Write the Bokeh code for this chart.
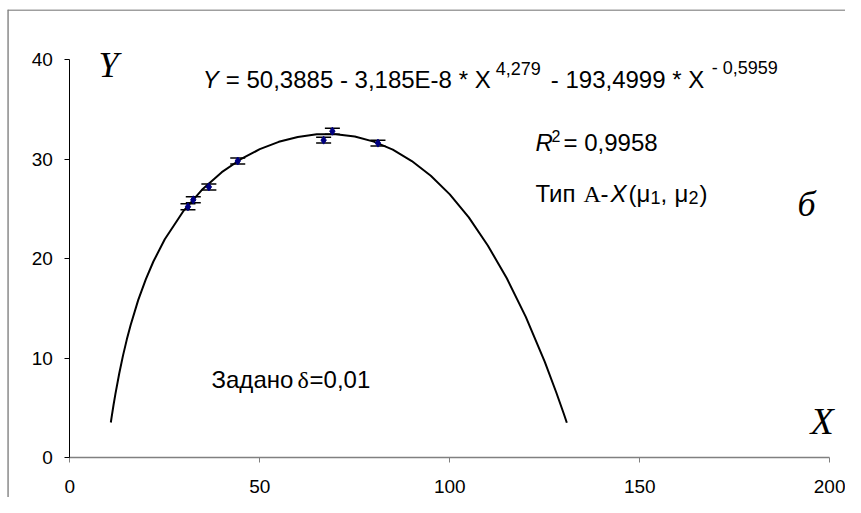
from bokeh.plotting import figure
from bokeh.models import Range1d, Label, Whisker, ColumnDataSource, TeeHead, FixedTicker, Span
from bokeh.embed import file_html
from bokeh.resources import INLINE

# fitted curve
curve_x = [10.8, 11, 11.5, 12, 13, 14, 15, 16, 18, 20, 22, 25, 30, 35, 40, 45, 50, 55, 60, 65,
           70, 75, 80, 85, 90, 95, 100, 105, 110, 115, 120, 125, 128, 130, 130.8]
curve_y = [3.52, 4.03, 5.25, 6.37, 8.42, 10.24, 11.85, 13.30, 15.82, 17.91, 19.70, 21.93, 24.82,
           27.00, 28.68, 29.98, 30.99, 31.73, 32.22, 32.48, 32.50, 32.26, 31.75, 30.94, 29.80,
           28.32, 26.45, 24.13, 21.31, 18.02, 14.13, 9.62, 6.56, 4.40, 3.49]

# measured points with error bars
pts_x = [31.1, 32.5, 36.6, 44.2, 66.8, 69.1, 81.1]
pts_y = [25.2, 25.9, 27.2, 29.8, 31.9, 32.8, 31.6]
pts_err = [0.3, 0.3, 0.3, 0.3, 0.3, 0.3, 0.3]

x_ticks = [0, 50, 100, 150, 200]
y_ticks = [0, 10, 20, 30, 40]

SANS = "Liberation Sans"
SERIF = "Liberation Serif"

# frame covers the whole chart area; axes are pinned at 0
XL, XR = -16.39, 204.13
YB, YT = -4.02, 45.03

p = figure(width=845, height=497, output_backend="svg", toolbar_location=None,
           x_range=Range1d(XL, XR), y_range=Range1d(YB, YT),
           min_border_left=7, min_border_right=0, min_border_top=9, min_border_bottom=0)
p.background_fill_color = "white"
p.border_fill_color = "white"
p.outline_line_color = None
p.xgrid.visible = False
p.ygrid.visible = False

p.xaxis.ticker = FixedTicker(ticks=x_ticks)
p.yaxis.ticker = FixedTicker(ticks=y_ticks)
p.xaxis.fixed_location = 0
p.yaxis.fixed_location = 0
p.xaxis.bounds = (0, 200)
p.yaxis.bounds = (0, 40)
for ax in (p.xaxis[0], p.yaxis[0]):
    ax.major_tick_in = 0
    ax.major_tick_out = 5
    ax.minor_tick_line_color = None
    ax.major_label_text_font = SANS
    ax.major_label_text_font_size = "19px"
    ax.major_label_text_color = "black"
p.xaxis.major_label_standoff = 17
p.yaxis.major_label_standoff = 12
p.xaxis.axis_line_color = "#808080"
p.xaxis.axis_line_width = 1.5
p.xaxis.major_tick_line_color = "#808080"
p.yaxis.axis_line_color = "black"
p.yaxis.major_tick_line_color = "black"

# chart-area border (left and top edges)
p.add_layout(Span(location=XL + 0.1, dimension="height", line_color="black", line_width=1))
p.add_layout(Span(location=YT - 0.05, dimension="width", line_color="#7f7f7f", line_width=1.5))

p.line(curve_x, curve_y, line_color="black", line_width=2)

src = ColumnDataSource(dict(x=pts_x, y=pts_y,
                            upper=[a + b for a, b in zip(pts_y, pts_err)],
                            lower=[a - b for a, b in zip(pts_y, pts_err)]))
w = Whisker(source=src, base="x", upper="upper", lower="lower", dimension="height",
            line_color="black", line_width=1.2,
            upper_head=TeeHead(size=15, line_color="black", line_width=1.5),
            lower_head=TeeHead(size=15, line_color="black", line_width=1.5))
p.add_layout(w)
p.scatter("x", "y", source=src, marker="diamond", size=8,
          fill_color="#000080", line_color="#000080")


def put(x, y, off, txt, size, style="normal", font=SANS, dy=0):
    p.add_layout(Label(x=x, y=y, x_offset=off, y_offset=dy, text=txt,
                       text_font=font, text_font_size=f"{size}px",
                       text_font_style=style, text_color="black",
                       text_baseline="alphabetic", text_align="left"))


F = 24
S = 18
# equation (pieces placed at measured pixel offsets from its left end)
ex, ey = 35.0, 38.0
put(ex, ey, 0, "Y", F, "italic")
put(ex, ey, 23, "= 50,3885 - 3,185E-8 * X", F)
put(ex, ey, 293, "4,279", S, dy=11)
put(ex, ey, 348, "- 193,4999 * X", F)
put(ex, ey, 509, "- 0,5959", S, dy=11)

# R^2
rx, ry = 122.55, 31.65
put(rx, ry, 0, "R", F, "italic")
put(rx, ry, 16, "2", 16, dy=7)
put(rx, ry, 28, "= 0,9958", F)

# Тип A-X(μ1, μ2)
tx, ty = 122.55, 26.5
put(tx, ty, 0, "Тип", F)
put(tx, ty, 48, "А", F, font=SERIF)
put(tx, ty, 65, "-", F)
put(tx, ty, 75, "X", F, "italic")
put(tx, ty, 93, "(μ", F)
put(tx, ty, 115, "1", S, dy=-4)
put(tx, ty, 125, ",", F)
put(tx, ty, 139, "μ", F)
put(tx, ty, 153, "2", S, dy=-4)
put(tx, ty, 164, ")", F)

# Задано δ=0,01
zx, zy = 37.3, 7.8
put(zx, zy, 0, "Задано", F)
put(zx, zy, 86, "δ", F, font=SERIF)
put(zx, zy, 98, "=0,01", F)

for txt, x, y, sz in [("Y", 7.55, 39.5, 36), ("X", 194.9, 3.7, 38), ("б", 191.5, 25.5, 36)]:
    p.add_layout(Label(x=x, y=y, text=txt, text_font=SERIF, text_font_size=f"{sz}px",
                       text_font_style="italic", text_color="black", text_baseline="middle"))

open("out.html", "w").write(file_html(p, INLINE))
